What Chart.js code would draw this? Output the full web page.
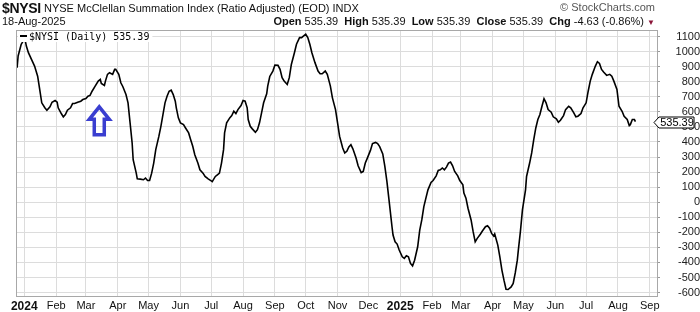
<!DOCTYPE html>
<html>
<head>
<meta charset="utf-8">
<script src="https://cdn.jsdelivr.net/npm/chart.js@4.4.1/dist/chart.umd.min.js"></script>
<style>
  body { margin: 0; background: #fff; }
  #wrap { position: relative; width: 700px; height: 312px; font-family: "Liberation Sans", Arial, sans-serif; color: #111; }
  #grafico { position: absolute; left: 0; top: 0; }
  .txt { position: absolute; white-space: pre; font-size: 11px; line-height: 13px; }
  .sym { font-size: 14px; font-weight: bold; line-height: 16px; letter-spacing: -0.3px; }
  .copy { color: #555; }
  .tri { color: #8b1538; font-size: 8px; }
</style>
</head>
<body>
<div id="wrap">
  <canvas id="grafico" width="700" height="312"></canvas>
  <div class="txt sym" style="left:2px;top:0px">$NYSI</div>
  <div class="txt" style="left:44px;top:2px">NYSE McClellan Summation Index (Ratio Adjusted) (EOD) INDX</div>
  <div class="txt copy" style="right:45px;top:1px">© StockCharts.com</div>
  <div class="txt" style="left:2px;top:15px">18-Aug-2025</div>
  <div class="txt" style="right:45px;top:15px"><b>Open</b> 535.39  <b>High</b> 535.39  <b>Low</b> 535.39  <b>Close</b> 535.39  <b>Chg</b> -4.63 (-0.86%) <span class="tri">▼</span></div>
</div>
<script>
// dias contados a partir de 2024-01-01
const dias = [-7, -6, -3, -1, 1, 2, 4, 7, 10, 13, 15, 17, 20, 22, 25, 27, 30, 32, 33, 36, 38, 40, 42, 45, 47, 49, 52, 55, 57, 60,
    62, 64, 66, 69, 72, 74, 75, 78, 79, 81, 83, 86, 88, 89, 92, 94, 96, 99, 101, 103, 105, 106, 109, 110, 113, 116, 118, 120, 122, 124,
    126, 128, 131, 133, 135, 137, 139, 141, 143, 145, 147, 148, 150, 152, 155, 157, 160, 162, 164, 166, 169, 171, 174, 176, 179, 182, 183, 186, 188, 190,
    192, 194, 195, 197, 200, 202, 204, 206, 208, 211, 213, 215, 217, 218, 220, 222, 225, 227, 229, 231, 233, 236, 237, 239, 242, 244, 247, 249, 251, 253,
    256, 258, 260, 263, 265, 268, 270, 272, 274, 276, 278, 280, 283, 286, 288, 290, 293, 295, 298, 300, 303, 305, 307, 310, 312, 314, 316, 318, 320, 323,
    325, 328, 330, 332, 334, 337, 339, 342, 344, 346, 349, 351, 353, 355, 358, 359, 361, 363, 365, 368, 370, 372, 374, 376, 378, 380, 383, 385, 387, 389,
    391, 393, 396, 398, 401, 403, 405, 407, 409, 411, 413, 415, 417, 419, 422, 424, 427, 428, 430, 432, 435, 437, 439, 441, 444, 446, 449, 451, 453, 455,
    457, 458, 461, 463, 465, 467, 469, 471, 474, 476, 478, 480, 481, 483, 485, 488, 489, 492, 494, 496, 498, 500, 502, 504, 506, 508, 510, 513, 515, 518,
    520, 522, 525, 527, 530, 532, 535, 537, 539, 542, 544, 547, 549, 551, 553, 556, 558, 560, 562, 564, 567, 570, 572, 574, 577, 579, 582, 584, 587, 589,
    590, 592, 594, 595];

const valoresNYSI = [893, 971, 1049, 1071, 1071, 1037, 993, 949, 904, 837, 749, 660, 627, 611, 633, 664, 675, 664, 627, 589, 567, 582, 611, 627, 655, 655, 664, 671, 682, 689,
    704, 709, 737, 771, 804, 815, 789, 775, 804, 849, 860, 849, 882, 882, 849, 793, 767, 715, 660, 527, 393, 282, 193, 155, 153, 149, 160, 144, 144, 193,
    260, 349, 437, 504, 582, 660, 704, 737, 744, 715, 671, 627, 560, 527, 515, 493, 460, 415, 371, 315, 260, 215, 193, 171, 155, 142, 137, 171, 182, 193,
    260, 349, 460, 527, 560, 575, 604, 589, 615, 642, 675, 671, 627, 549, 504, 487, 464, 482, 527, 593, 660, 720, 771, 835, 871, 911, 909, 882, 827, 804,
    782, 827, 915, 993, 1049, 1093, 1093, 1104, 1115, 1093, 1049, 993, 927, 871, 853, 853, 871, 849, 771, 693, 615, 527, 437, 360, 327, 338, 367, 382, 353, 293,
    242, 197, 204, 260, 293, 344, 389, 397, 389, 369, 321, 240, 140, 20, -163, -218, -263, -278, -318, -363, -373, -356, -363, -407, -423, -385, -296, -185, -118, -29,
    27, 82, 131, 144, 175, 211, 215, 227, 215, 233, 260, 267, 242, 204, 175, 144, 115, 60, 27, -40, -118, -196, -263, -240, -213, -191, -163, -156, -173, -207,
    -225, -211, -285, -363, -451, -518, -578, -580, -563, -540, -470, -385, -318, -196, -51, 82, 171, 260, 327, 415, 493, 549, 582, 637, 687, 660, 615, 598, 567, 553,
    531, 544, 575, 615, 637, 627, 593, 567, 571, 589, 627, 660, 737, 804, 849, 904, 933, 922, 882, 864, 842, 849, 837, 804, 749, 637, 604, 571, 549, 509,
    515, 549, 549, 535.39];

const iniciosMes = ['2024-01-01', '2024-02-01', '2024-03-01', '2024-04-01', '2024-05-01', '2024-06-01', '2024-07-01', '2024-08-01', '2024-09-01', '2024-10-01',
    '2024-11-01', '2024-12-01', '2025-01-01', '2025-02-01', '2025-03-01', '2025-04-01', '2025-05-01', '2025-06-01', '2025-07-01', '2025-08-01', '2025-09-01'];
const rotulosMes = ['2024', 'Feb', 'Mar', 'Apr', 'May', 'Jun', 'Jul', 'Aug', 'Sep', 'Oct', 'Nov', 'Dec', '2025', 'Feb', 'Mar', 'Apr', 'May', 'Jun', 'Jul', 'Aug', 'Sep'];
const ticksY = [-600, -500, -400, -300, -200, -100, 0, 100, 200, 300, 400, 500, 600, 700, 800, 900, 1000, 1100];

const ultimoValor = valoresNYSI[valoresNYSI.length - 1];
const textoLegenda = '$NYSI (Daily) 535.39';

// seta azul perto de marco/2024
const setaDia = 73;
const setaValor = 650;

const diaDe = (s) => Math.round((Date.parse(s) - Date.parse('2024-01-01')) / 864e5);
const diasTicksX = iniciosMes.map(diaDe);

const fonte = '"Liberation Sans", Arial, sans-serif';

const pluginMoldura = {
    id: 'moldura',
    beforeDatasetsDraw(chart) {
        const { ctx, chartArea: a } = chart;
        ctx.save();
        ctx.strokeStyle = '#a8a8a8';
        ctx.lineWidth = 1;
        ctx.strokeRect(a.left - 0.5, a.top - 0.5, a.right - a.left + 1, a.bottom - a.top + 1);
        ctx.restore();
    },
    afterDatasetsDraw(chart) {
        const { ctx, chartArea: a, scales } = chart;
        ctx.save();

        // legenda dentro do grafico
        ctx.font = '10px "DejaVu Sans Mono", monospace';
        const w = ctx.measureText(textoLegenda).width;
        ctx.fillStyle = '#fff';
        ctx.fillRect(a.left + 1, a.top + 1, w + 14, 10);
        ctx.fillStyle = '#000';
        ctx.fillRect(a.left + 3, a.top + 4, 7, 2);
        ctx.textBaseline = 'alphabetic';
        ctx.fillText(textoLegenda, a.left + 12, a.top + 9);

        // seta
        const sx = scales.x.getPixelForValue(setaDia);
        const sy = scales.y.getPixelForValue(setaValor);
        ctx.strokeStyle = '#3a3ed0';
        ctx.lineWidth = 3.5;
        ctx.lineJoin = 'miter';
        ctx.beginPath();
        ctx.moveTo(sx, sy + 2.5);
        ctx.lineTo(sx + 10, sy + 15);
        ctx.lineTo(sx + 5, sy + 15);
        ctx.lineTo(sx + 5, sy + 30.5);
        ctx.lineTo(sx - 5, sy + 30.5);
        ctx.lineTo(sx - 5, sy + 15);
        ctx.lineTo(sx - 10, sy + 15);
        ctx.closePath();
        ctx.stroke();
        ctx.restore();
    },
    afterDraw(chart) {
        const { ctx, chartArea: a, scales } = chart;
        const y = Math.round(scales.y.getPixelForValue(ultimoValor)) + 0.5;
        const x = a.right - 3;
        ctx.save();
        ctx.beginPath();
        ctx.moveTo(x, y);
        ctx.lineTo(x + 5, y - 5.5);
        ctx.lineTo(x + 40, y - 5.5);
        ctx.lineTo(x + 40, y + 5.5);
        ctx.lineTo(x + 5, y + 5.5);
        ctx.closePath();
        ctx.fillStyle = '#fff';
        ctx.fill();
        ctx.strokeStyle = '#000';
        ctx.lineWidth = 1;
        ctx.stroke();
        ctx.fillStyle = '#000';
        ctx.font = '11px ' + fonte;
        ctx.textAlign = 'center';
        ctx.textBaseline = 'middle';
        ctx.fillText(ultimoValor.toFixed(2), x + 23, y + 0.5);
        ctx.restore();
    }
};

window.onload = function () {
    const grafico = document.getElementById('grafico');

    new Chart(grafico, {
        type: 'line',
        data: {
            datasets: [{
                label: '$NYSI (Daily)',
                data: dias.map((d, i) => ({ x: d, y: valoresNYSI[i] })),
                borderColor: '#000',
                borderWidth: 1.6,
                pointRadius: 0,
                tension: 0
            }]
        },
        options: {
            responsive: false,
            animation: false,
            devicePixelRatio: 1,
            layout: { padding: { left: 17, top: 31, right: 0, bottom: 0 } },
            plugins: {
                legend: { display: false },
                tooltip: { enabled: false }
            },
            scales: {
                x: {
                    type: 'linear',
                    min: -7.1,
                    max: 616,
                    afterBuildTicks: (scale) => { scale.ticks = diasTicksX.map((v) => ({ value: v })); },
                    afterFit: (scale) => { scale.height = 16; },
                    grid: { color: '#dcdcdc', drawTicks: false },
                    border: { display: false },
                    ticks: {
                        autoSkip: false,
                        maxRotation: 0,
                        padding: 3,
                        color: '#111',
                        callback: (v, i) => rotulosMes[i],
                        font: (ctx) => /^\d{4}$/.test(rotulosMes[ctx.index])
                            ? { family: fonte, size: 12, weight: 'bold' }
                            : { family: fonte, size: 11 }
                    }
                },
                y: {
                    position: 'right',
                    min: -623,
                    max: 1137,
                    afterBuildTicks: (scale) => { scale.ticks = ticksY.map((v) => ({ value: v })); },
                    afterFit: (scale) => { scale.width = 43; },
                    grid: { color: '#dcdcdc', tickLength: 3, tickColor: '#999' },
                    border: { display: false },
                    ticks: {
                        autoSkip: false,
                        crossAlign: 'far',
                        padding: 0,
                        color: '#222',
                        callback: (v) => String(v),
                        font: { family: fonte, size: 11 }
                    }
                }
            }
        },
        plugins: [pluginMoldura]
    });
};
</script>
</body>
</html>
